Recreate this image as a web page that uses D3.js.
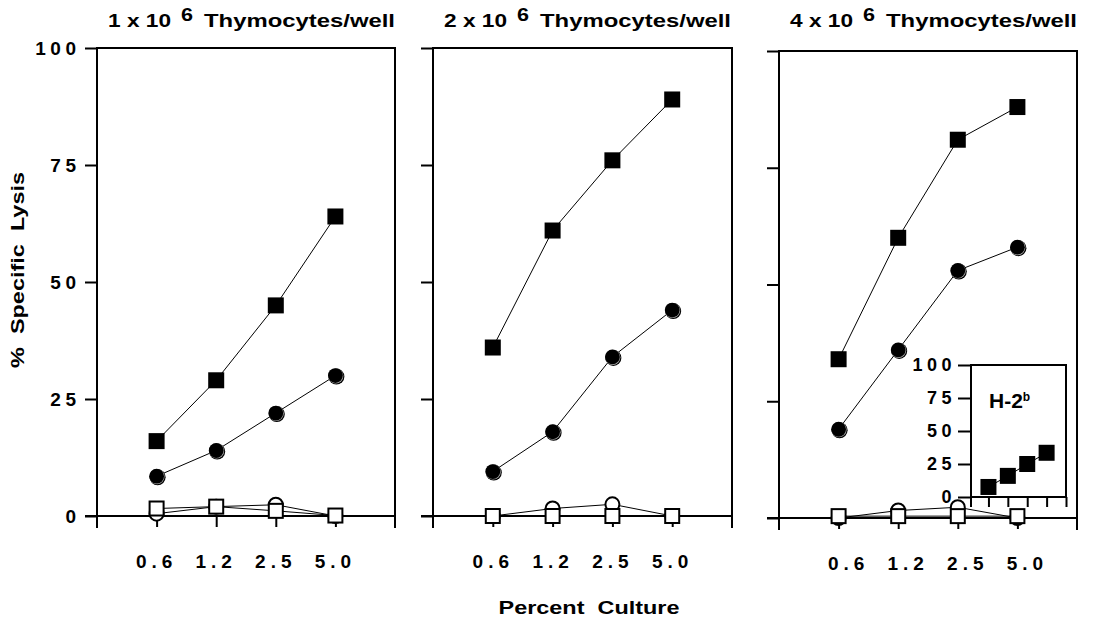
<!DOCTYPE html>
<html><head><meta charset="utf-8">
<script src="https://cdn.jsdelivr.net/npm/d3@7"></script>
<style>
body{margin:0;background:#fff}
svg text{font-family:"Liberation Sans",Arial,Helvetica,sans-serif;font-weight:bold;fill:#000;white-space:pre}
</style>
</head><body>
<svg id="chart" width="1093" height="624"></svg>
<script>
// ---- data ----
const categories = ["0.6", "1.2", "2.5", "5.0"];
const yTickValues = [0, 25, 50, 75, 100];
const panelCellCounts = ["1", "2", "4"];
const filledSquare = [[16, 29, 45, 64], [36, 61, 76, 89], [34, 60, 81, 88]];
const filledCircle = [[8.5, 14, 22, 30], [9.5, 18, 34, 44], [19, 36, 53, 58]];
const openCircle = [[0.5, 2, 2.4, 0], [0, 1.6, 2.5, 0], [0, 1.6, 2.3, 0]];
const openSquare = [[1.6, 2, 1.1, 0.1], [0, 0, 0, 0], [0.4, 0.4, 0.4, 0.4]];
const insetValues = [7.6, 16, 25, 33.5];
const insetTickValues = [0, 25, 50, 75, 100];
const insetXTicks = [0, 1, 2, 3, 4];

// ---- layout ----
const FONT = '"Liberation Sans",Arial,sans-serif';
const svg = d3.select("#chart");
svg.append("rect").attr("width", 1093).attr("height", 624).attr("fill", "#fff");
const panels = [
  {left: 97, right: 395, top: 48, bottom: 516, labelDx: -3},
  {left: 433, right: 732, top: 48, bottom: 516, labelDx: -2.5},
  {left: 779, right: 1077, top: 51, bottom: 518, labelDx: 7}
];
const AX = 2;

function drawFilledCircle(g, cx, cy) {
  g.append("circle").attr("cx", cx + 1).attr("cy", cy + 1).attr("r", 8).attr("fill", "#000");
  g.append("circle").attr("cx", cx + 0.4).attr("cy", cy + 0.4).attr("r", 7.6).attr("fill", "#aaa");
  g.append("circle").attr("cx", cx).attr("cy", cy).attr("r", 7.4).attr("fill", "#000");
}

panels.forEach((p, pi) => {
  const g = svg.append("g");
  const x = d3.scaleLinear().domain([-1, 4]).range([p.left, p.right]);
  const y = d3.scaleLinear().domain([0, 100]).range([p.bottom, p.top]);

  // y axis ticks (left, outward)
  const yAxis = d3.axisLeft(y).tickValues(yTickValues).tickSize(12).tickPadding(4.5)
    .tickFormat(pi === 0 ? d => d : () => "");
  const ya = g.append("g").attr("transform", `translate(${p.left},0)`).call(yAxis);
  ya.select(".domain").remove();
  ya.selectAll(".tick line").attr("stroke", "#000").attr("stroke-width", AX);
  ya.selectAll(".tick text").attr("font-size", 19).attr("letter-spacing", 4.5)
    .attr("font-family", FONT).attr("font-weight", "bold");

  // x axis ticks (downward)
  const xAxis = d3.axisBottom(x).tickValues([0, 1, 2, 3]).tickSize(11).tickPadding(28)
    .tickFormat(i => categories[i]);
  const xa = g.append("g").attr("transform", `translate(0,${p.bottom})`).call(xAxis);
  xa.select(".domain").remove();
  xa.selectAll(".tick line").attr("stroke", "#000").attr("stroke-width", AX);
  xa.selectAll(".tick text").attr("font-size", 19).attr("letter-spacing", 5)
    .attr("dx", p.labelDx + 2.5)
    .attr("font-family", FONT).attr("font-weight", "bold");

  // frame
  const frame = [
    [[p.left, p.top], [p.left, p.bottom + 12]],
    [[p.right, p.top], [p.right, p.bottom + 12]],
    [[p.left - 1, p.top], [p.right + 1, p.top]],
    [[p.left - 12, p.bottom], [p.right + 1, p.bottom]]
  ];
  frame.forEach(seg => g.append("path").attr("d", d3.line()(seg))
    .attr("stroke", "#000").attr("stroke-width", AX).attr("fill", "none"));

  // series lines
  const line = d3.line().x((d, i) => x(i)).y(d => y(d));
  [openCircle[pi], openSquare[pi], filledCircle[pi], filledSquare[pi]].forEach(s => {
    g.append("path").attr("d", line(s)).attr("fill", "none").attr("stroke", "#000").attr("stroke-width", 1);
  });

  // markers
  openCircle[pi].forEach((v, i) => g.append("circle").attr("cx", x(i)).attr("cy", y(v)).attr("r", 7)
    .attr("fill", "#fff").attr("stroke", "#000").attr("stroke-width", 2));
  openSquare[pi].forEach((v, i) => g.append("rect").attr("x", x(i) - 7).attr("y", y(v) - 7)
    .attr("width", 14).attr("height", 14).attr("fill", "#fff").attr("stroke", "#000").attr("stroke-width", 2));
  filledCircle[pi].forEach((v, i) => drawFilledCircle(g, x(i), y(v)));
  filledSquare[pi].forEach((v, i) => g.append("rect").attr("x", x(i) - 8).attr("y", y(v) - 8)
    .attr("width", 16).attr("height", 16).attr("fill", "#000"));

  // title
  g.append("text").attr("x", p.left + 11).attr("y", 27).attr("font-size", 18)
    .attr("textLength", 63).attr("lengthAdjust", "spacingAndGlyphs").text(panelCellCounts[pi] + " x 10");
  g.append("text").attr("x", p.left + 84).attr("y", 21).attr("font-size", 18)
    .attr("textLength", 12).attr("lengthAdjust", "spacingAndGlyphs").text("6");
  g.append("text").attr("x", p.left + 107).attr("y", 27).attr("font-size", 18)
    .attr("textLength", 191).attr("lengthAdjust", "spacingAndGlyphs").text("Thymocytes/well");

  // inset in third panel
  if (pi === 2) {
    const ix = d3.scaleLinear().domain([-0.9, 4]).range([971, 1066]);
    const iy = d3.scaleLinear().domain([0, 100]).range([497, 365]);
    const ig = svg.append("g");
    ig.append("rect").attr("x", 971).attr("y", 365).attr("width", 95).attr("height", 132)
      .attr("fill", "#fff").attr("stroke", "#000").attr("stroke-width", AX);
    const iya = ig.append("g").attr("transform", "translate(971,0)")
      .call(d3.axisLeft(iy).tickValues(insetTickValues).tickSize(13).tickPadding(2));
    iya.select(".domain").remove();
    iya.selectAll(".tick line").attr("stroke", "#000").attr("stroke-width", AX);
    iya.selectAll(".tick text").attr("font-size", 18).attr("letter-spacing", 4.5)
      .attr("font-family", FONT).attr("font-weight", "bold");
    const ixa = ig.append("g").attr("transform", "translate(0,497)")
      .call(d3.axisBottom(ix).tickValues(insetXTicks).tickSize(10).tickFormat(() => ""));
    ixa.select(".domain").remove();
    ixa.selectAll(".tick line").attr("stroke", "#000").attr("stroke-width", AX);
    ig.append("path").attr("d", d3.line()([[971, 497], [971, 507]])).attr("stroke", "#000").attr("stroke-width", AX);
    ig.append("path").attr("d", d3.line().x((d, i) => ix(i)).y(d => iy(d))(insetValues))
      .attr("fill", "none").attr("stroke", "#000").attr("stroke-width", 1);
    insetValues.forEach((v, i) => ig.append("rect").attr("x", ix(i) - 8).attr("y", iy(v) - 8)
      .attr("width", 16).attr("height", 16).attr("fill", "#000"));
    const lab = ig.append("text").attr("x", 989).attr("y", 408).attr("font-size", 21);
    lab.append("tspan").text("H-2");
    lab.append("tspan").attr("font-size", 12).attr("dy", -7).text("b");
  }
});

// axis titles
svg.append("text").attr("x", 589).attr("y", 614).attr("font-size", 18).attr("text-anchor", "middle")
  .attr("textLength", 181).attr("lengthAdjust", "spacingAndGlyphs").text("Percent  Culture");
svg.append("text").attr("transform", "translate(24,270) rotate(-90)").attr("font-size", 18)
  .attr("text-anchor", "middle").attr("textLength", 196).attr("lengthAdjust", "spacingAndGlyphs")
  .text("%  Specific  Lysis");
</script>
</body></html>
